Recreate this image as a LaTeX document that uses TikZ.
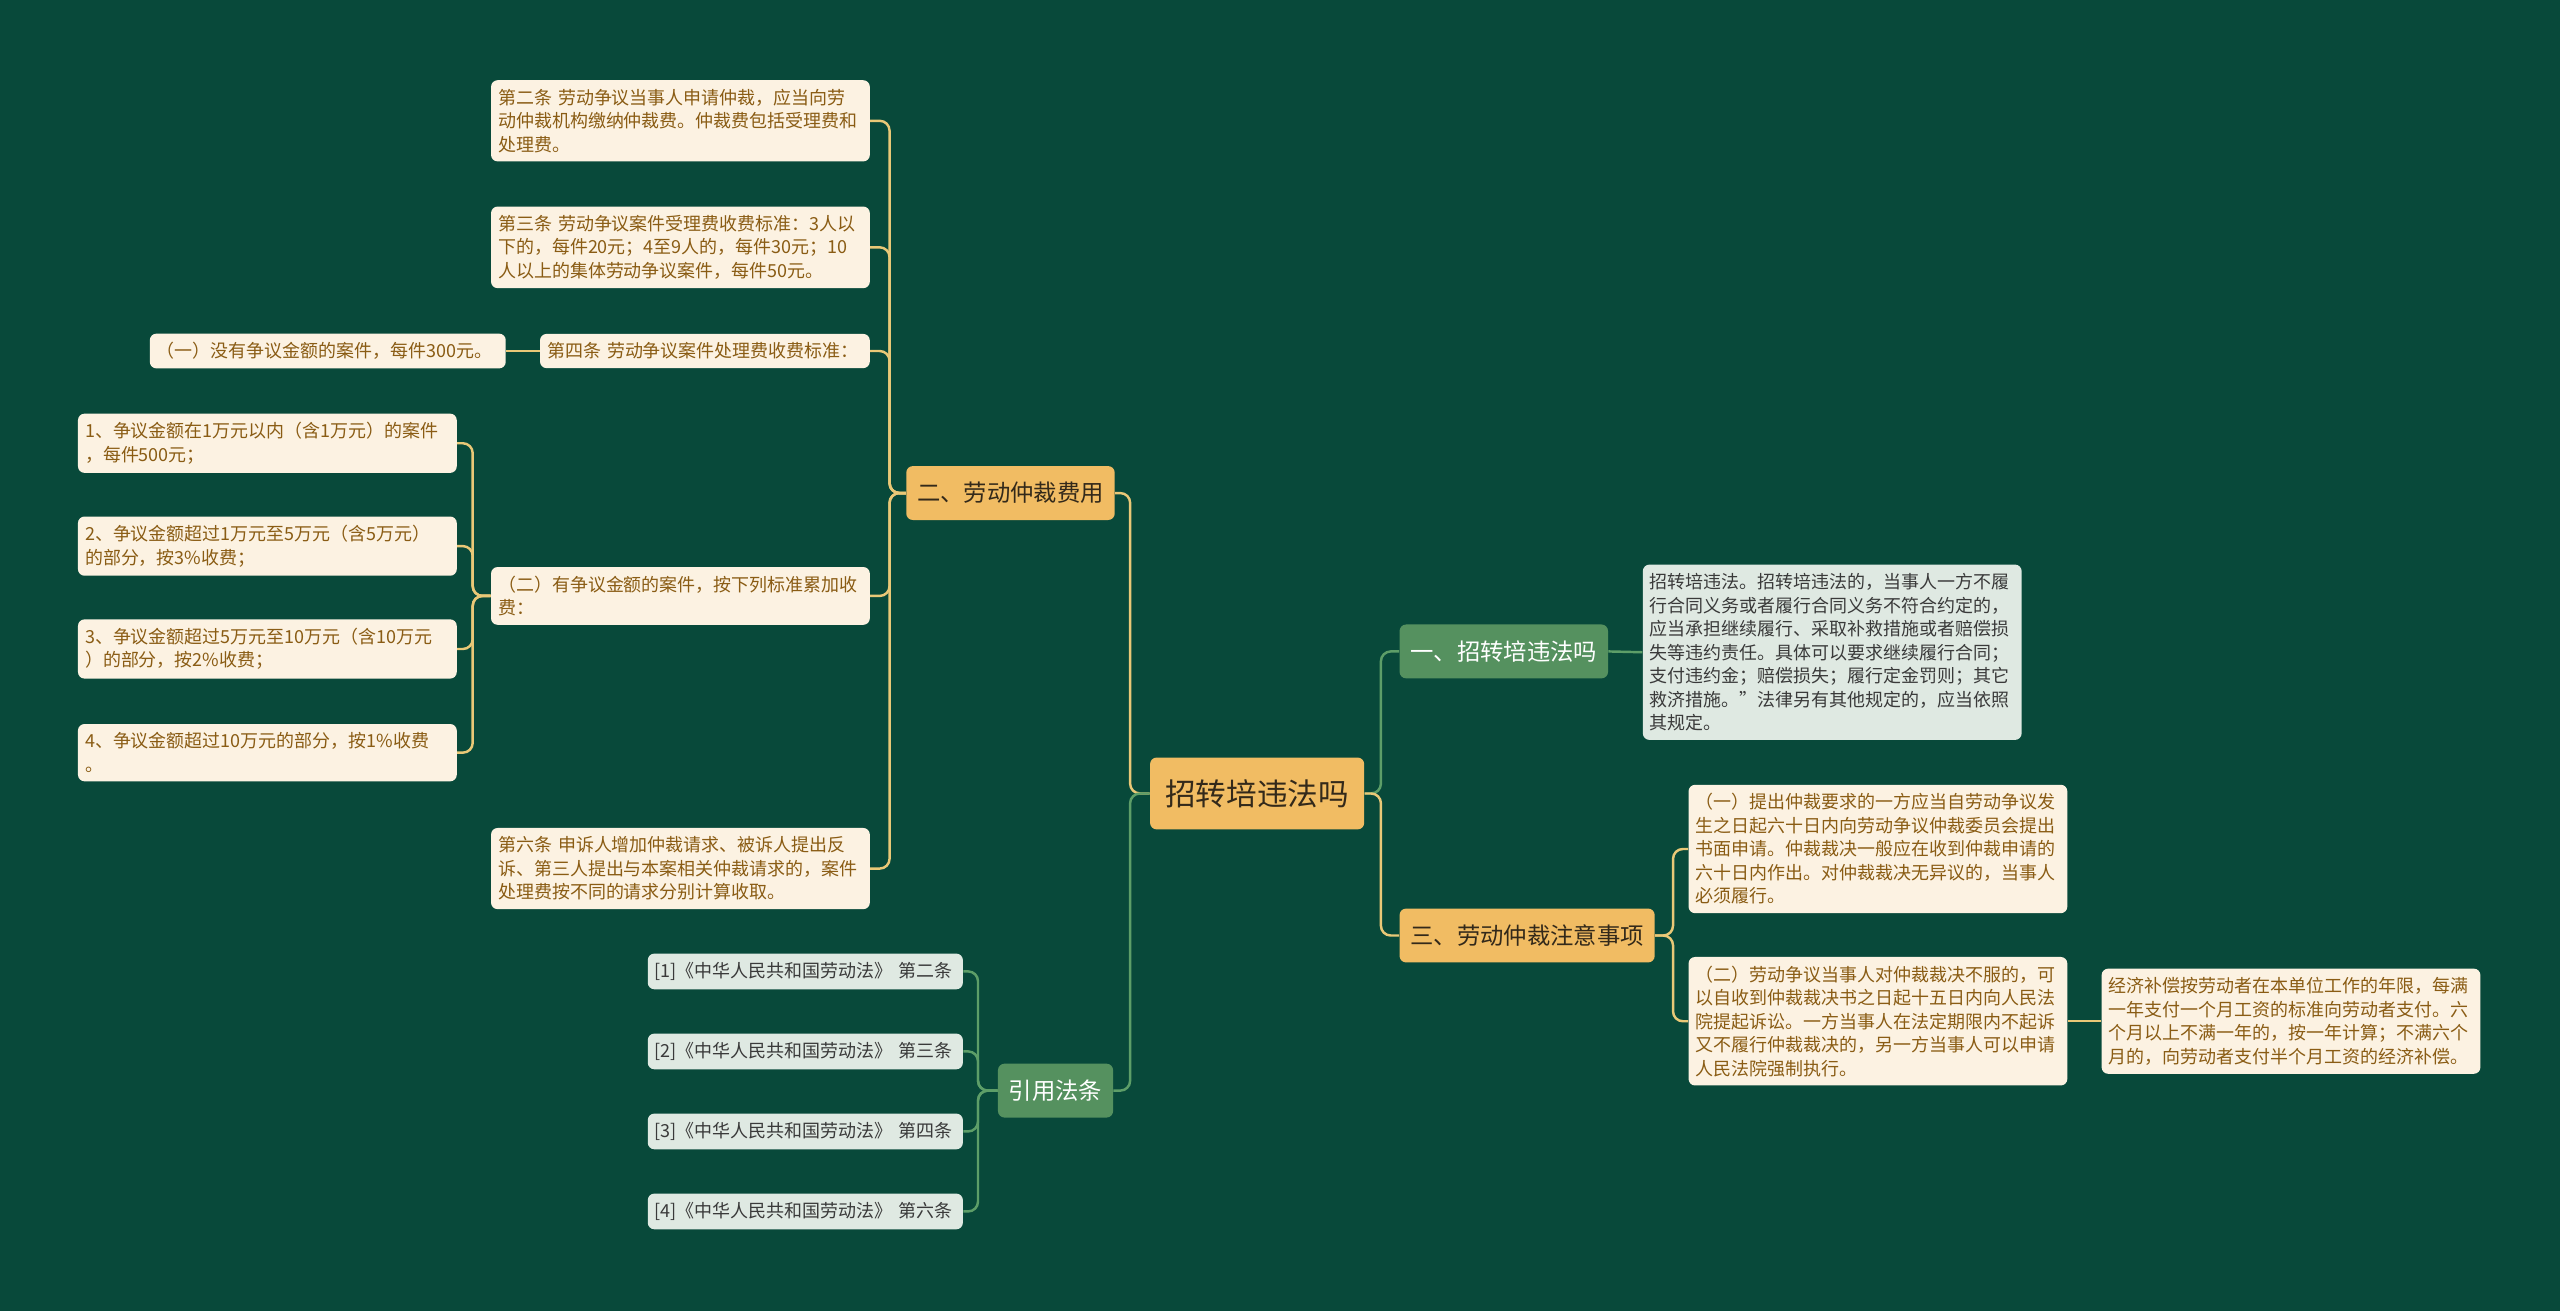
\documentclass[tikz,border=0pt]{standalone}
\usepackage{fontspec}
\setmainfont{Noto Sans CJK SC}
\definecolor{bg}{HTML}{08493A}
\definecolor{gold}{HTML}{F1BC63}
\definecolor{rootink}{HTML}{33291A}
\definecolor{cream}{HTML}{FCF2E2}
\definecolor{creamink}{HTML}{8A5C14}
\definecolor{leaf}{HTML}{55915F}
\definecolor{mint}{HTML}{DFE9E2}
\definecolor{citeink}{HTML}{3A3A3A}
\definecolor{goldln}{HTML}{E9C877}
\definecolor{greenln}{HTML}{5D9E68}
\begin{document}
\begin{tikzpicture}[
x=0.3mm, y=-0.3mm,
every node/.style={rounded corners=1.2mm, inner ysep=1.6mm},
root/.style={fill=gold, text=rootink, font=\fontsize{16}{19}\selectfont, minimum height=13.2mm, inner xsep=2.8mm},
major/.style={fill=gold, text=rootink, font=\fontsize{12.2}{15}\selectfont, minimum height=9.9mm, inner xsep=2mm},
majorg/.style={major, fill=leaf, text=white},
note/.style={fill=cream, text=creamink, font=\fontsize{9.4}{12.3}\selectfont, align=left, text width=67mm, inner xsep=1.3mm},
cite/.style={note, fill=mint, text=citeink},
goldline/.style={draw=goldln, line width=0.45mm, rounded corners=1.8mm},
greenline/.style={draw=greenln, line width=0.45mm, rounded corners=1.8mm}
]
\fill[bg] (0,0) rectangle (1568,803);

\node[root] (root) at (770,486) {招转培违法吗};
\node[major, anchor=east] (fee) at (683,302) {二、劳动仲裁费用};
\node[majorg, anchor=west] (q1) at (857,399) {一、招转培违法吗};
\node[major, anchor=west] (note) at (857,573) {三、劳动仲裁注意事项};
\node[majorg, anchor=east] (cite) at (682,668) {引用法条};

\node[note, anchor=east] (f2) at (533,74) {第二条 劳动争议当事人申请仲裁，应当向劳\\动仲裁机构缴纳仲裁费。仲裁费包括受理费和\\处理费。};
\node[note, anchor=east] (f3) at (533,151.5) {第三条 劳动争议案件受理费收费标准：3人以\\下的，每件20元；4至9人的，每件30元；10\\人以上的集体劳动争议案件，每件50元。};
\node[note, text width=58mm, anchor=east] (f4) at (533,215) {第四条 劳动争议案件处理费收费标准：};
\node[note, text width=62.8mm, anchor=east] (f4a) at (310,215) {（一）没有争议金额的案件，每件300元。};
\node[note, anchor=east] (f5) at (533,365) {（二）有争议金额的案件，按下列标准累加收\\费：};
\node[note, anchor=east] (a1) at (280,271.5) {1、争议金额在1万元以内（含1万元）的案件\\，每件500元；};
\node[note, anchor=east] (a2) at (280,334.5) {2、争议金额超过1万元至5万元（含5万元）\\的部分，按3\%收费；};
\node[note, anchor=east] (a3) at (280,397.5) {3、争议金额超过5万元至10万元（含10万元\\）的部分，按2\%收费；};
\node[note, anchor=east] (a4) at (280,461) {4、争议金额超过10万元的部分，按1\%收费\\。};
\node[note, anchor=east] (f6) at (533,532) {第六条 申诉人增加仲裁请求、被诉人提出反\\诉、第三人提出与本案相关仲裁请求的，案件\\处理费按不同的请求分别计算收取。};

\node[cite, text width=55.3mm, anchor=east] (c1) at (590,595) {[1]《中华人民共和国劳动法》 第二条};
\node[cite, text width=55.3mm, anchor=east] (c2) at (590,644) {[2]《中华人民共和国劳动法》 第三条};
\node[cite, text width=55.3mm, anchor=east] (c3) at (590,693) {[3]《中华人民共和国劳动法》 第四条};
\node[cite, text width=55.3mm, anchor=east] (c4) at (590,742) {[4]《中华人民共和国劳动法》 第六条};

\node[cite, anchor=west] (q1a) at (1006,399.5) {招转培违法。招转培违法的，当事人一方不履\\行合同义务或者履行合同义务不符合约定的，\\应当承担继续履行、采取补救措施或者赔偿损\\失等违约责任。具体可以要求继续履行合同；\\支付违约金；赔偿损失；履行定金罚则；其它\\救济措施。”法律另有其他规定的，应当依照\\其规定。};
\node[note, anchor=west] (n1) at (1034,520) {（一）提出仲裁要求的一方应当自劳动争议发\\生之日起六十日内向劳动争议仲裁委员会提出\\书面申请。仲裁裁决一般应在收到仲裁申请的\\六十日内作出。对仲裁裁决无异议的，当事人\\必须履行。};
\node[note, anchor=west] (n2) at (1034,625.5) {（二）劳动争议当事人对仲裁裁决不服的，可\\以自收到仲裁裁决书之日起十五日内向人民法\\院提起诉讼。一方当事人在法定期限内不起诉\\又不履行仲裁裁决的，另一方当事人可以申请\\人民法院强制执行。};
\node[note, anchor=west] (n2a) at (1287,625.5) {经济补偿按劳动者在本单位工作的年限，每满\\一年支付一个月工资的标准向劳动者支付。六\\个月以上不满一年的，按一年计算；不满六个\\月的，向劳动者支付半个月工资的经济补偿。};

\draw[goldline] (root.west) -- ++(-12,0) |- (fee.east);
\draw[greenline] (root.west) -- ++(-12,0) |- (cite.east);
\draw[greenline] (root.east) -- ++(10,0) |- (q1.west);
\draw[goldline] (root.east) -- ++(10,0) |- (note.west);
\foreach \c in {f2,f3,f4,f5,f6}
  \draw[goldline] (fee.west) -- ++(-10,0) |- (\c.east);
\draw[goldline] (f4.west) -- (f4a.east);
\foreach \c in {a1,a2,a3,a4}
  \draw[goldline] (f5.west) -- ++(-11,0) |- (\c.east);
\foreach \c in {c1,c2,c3,c4}
  \draw[greenline] (cite.west) -- ++(-12,0) |- (\c.east);
\draw[greenline] (q1.east) -- (q1a.west);
\foreach \c in {n1,n2}
  \draw[goldline] (note.east) -- ++(11,0) |- (\c.west);
\draw[goldline] (n2.east) -- (n2a.west);
\end{tikzpicture}
\end{document}
